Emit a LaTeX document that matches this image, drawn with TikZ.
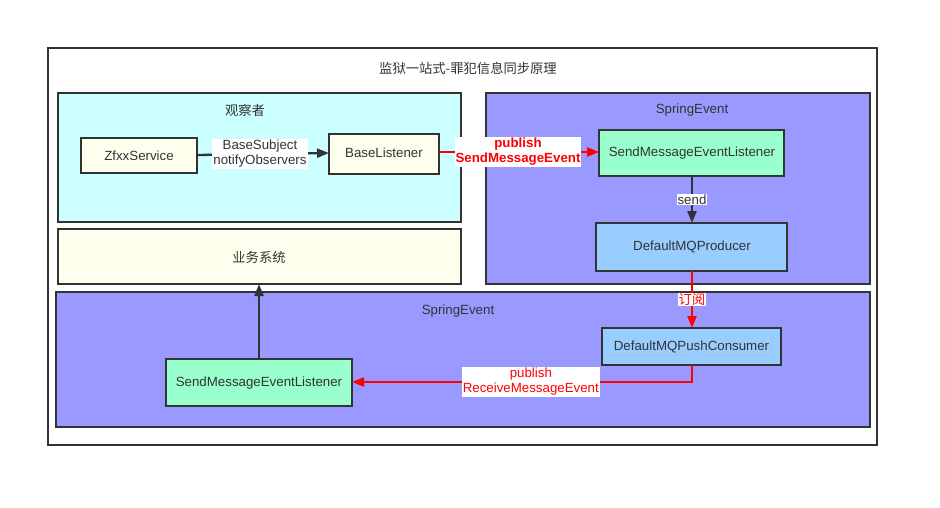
\documentclass[tikz,border=0pt]{standalone}
\usepackage{fontspec}
\setmainfont{Liberation Sans}
\newfontfamily\cjk{Noto Sans CJK SC}
\usetikzlibrary{arrows.meta}
\definecolor{txt}{HTML}{333333}
\definecolor{edge}{HTML}{333333}
\definecolor{cyanbg}{HTML}{CCFFFF}
\definecolor{ybg}{HTML}{FFFFEE}
\definecolor{purp}{HTML}{9999FF}
\definecolor{mint}{HTML}{99FFCC}
\definecolor{sky}{HTML}{99CCFF}
\definecolor{redl}{HTML}{FF0000}
\begin{document}
\begin{tikzpicture}[x=1pt,y=-1pt,
  every node/.style={font=\fontsize{13.3}{15}\selectfont, text=txt},
  box/.style={draw=edge, line width=2.3pt},
  lbl/.style={fill=white, inner sep=1pt, align=center},
  blk/.style={draw=edge, line width=2.3pt, -{Triangle[length=12pt,width=9pt]}},
  rd/.style={draw=redl, line width=2.3pt, -{Triangle[length=12pt,width=9pt]}}
]
\useasboundingbox[fill=white] (0,0) rectangle (940,508);
% outer
\draw[box, fill=white] (48,48) rectangle (877,445);
\node at (468,68) {\cjk 监狱一站式-罪犯信息同步原理};
% observer
\draw[box, fill=cyanbg] (58,93) rectangle (461,222);
\node at (245,110) {\cjk 观察者};
\draw[box, fill=ybg] (81,138) rectangle (197,173);
\node (zf) at (139,155.5) {ZfxxService};
\coordinate (zfR) at (197,155);
\draw[box, fill=ybg] (329,134) rectangle (439,174);
\node (bl) at (384,153) {BaseListener};
\coordinate (blL) at (329,153);
\coordinate (blR) at (439,152);
% business system
\draw[box, fill=ybg] (58,229) rectangle (461,284);
\node (biz) at (259,257) {\cjk 业务系统};
\coordinate (bizB) at (259,284);
% right spring event
\draw[box, fill=purp] (486,93) rectangle (870,284);
\node at (692,110) {SpringEvent};
\draw[box, fill=mint] (599,130) rectangle (784,176);
\node (sml) at (692,153) {SendMessageEventListener};
\coordinate (smlL) at (599,152);
\coordinate (smlB) at (692,176);
\draw[box, fill=sky] (596,223) rectangle (787,271);
\node (prod) at (692,246.5) {DefaultMQProducer};
\coordinate (prodT) at (692,223);
\coordinate (prodB) at (692,271);
% bottom spring event
\draw[box, fill=purp] (56,292) rectangle (870,427);
\node at (458,311) {SpringEvent};
\draw[box, fill=sky] (602,328) rectangle (781,365);
\node (cons) at (691.5,346.5) {DefaultMQPushConsumer};
\coordinate (consT) at (692,328);
\coordinate (consB) at (692,365);
\draw[box, fill=mint] (166,359) rectangle (352,406);
\node (rml) at (259,383) {SendMessageEventListener};
\coordinate (rmlT) at (259,359);
\coordinate (rmlR) at (352,382);
% connectors
\draw[blk] (zfR) -- (blL) node[lbl, midway, xshift=-3pt] {BaseSubject\\notifyObservers};
\draw[rd] (blR) -- (smlL) node[lbl, midway, xshift=-1pt, text=redl, font=\fontsize{13.3}{15}\selectfont\bfseries] {publish\\SendMessageEvent};
\draw[blk] (smlB) -- (prodT) node[lbl, midway] {send};
\draw[rd] (prodB) -- (consT) node[lbl, pos=0.5, text=redl, inner sep=0.5pt] {\cjk 订阅};
\draw[rd] (consB) |- (rmlR) node[lbl, pos=0.737, text=redl] {publish\\ReceiveMessageEvent};
\draw[blk] (rmlT) -- (bizB);
\end{tikzpicture}
\end{document}
